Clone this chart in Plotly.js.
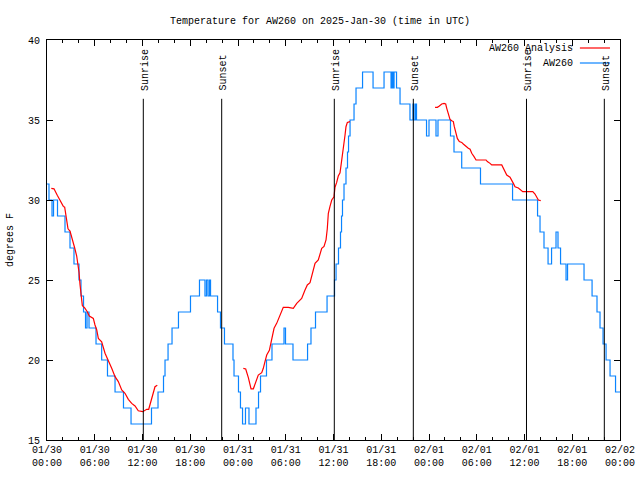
<!DOCTYPE html>
<html>
<head>
<meta charset="utf-8">
<script src="https://cdn.plot.ly/plotly-3.0.1.min.js"></script>
<style>html,body{margin:0;padding:0;background:#fff}#chart{width:640px;height:480px}</style>
</head>
<body>
<div id="chart"></div>
<script>
// Hours after 2025-01-30 00:00 UTC
const obsHours = [0.00,0.25,0.63,0.82,1.32,2.26,2.89,3.39,4.02,4.27,4.59,4.84,5.03,5.28,6.16,6.87,7.60,8.55,9.61,10.56,
  13.13,13.95,14.64,14.83,15.21,15.71,16.52,18.03,19.16,19.85,20.04,20.23,20.42,20.55,21.43,21.80,22.30,23.37,23.50,24.06,
  24.31,24.57,24.94,25.38,26.26,26.58,26.83,27.58,28.27,29.78,29.97,30.91,32.74,33.17,33.74,35.19,36.13,36.32,36.63,36.88,
  37.01,37.13,37.32,37.57,37.76,37.89,38.08,38.58,38.83,39.65,40.97,42.35,43.23,43.36,43.48,43.61,43.92,44.36,45.61,45.99,
  46.12,46.31,46.43,47.69,48.00,48.88,49.13,50.70,51.14,52.11,54.47,58.50,61.64,61.95,62.45,62.96,63.40,63.96,64.21,64.53,
  65.22,65.41,67.48,68.49,69.11,69.49,69.87,70.25,70.75,71.44,72.00];
const obsTemp = [31,30,29,30,29,28,27,26,25,24,23,22,23,22,21,20,19,18,17,16,
  17,18,19,20,21,22,23,24,25,24,25,24,25,24,23,22,21,20,19,18,
  17,16,17,16,17,18,19,20,21,22,21,20,21,22,23,24,25,26,27,28,
  29,30,31,32,33,34,35,36,37,38,37,38,37,38,37,38,37,36,35,36,
  35,36,35,34,35,34,35,34,33,32,31,30,29,28,27,26,27,28,27,26,
  25,26,25,24,23,22,21,20,19,18,18];

// Analysis series (null = gap)
const anaHours = [0.54,0.88,1.29,1.72,2.05,2.22,2.35,2.48,2.64,2.89,3.18,3.48,3.73,3.90,4.02,4.15,4.23,4.44,4.74,5.06,
  5.32,5.82,6.03,6.25,6.45,6.87,7.29,7.70,8.13,8.55,8.96,9.39,9.80,10.22,10.64,11.06,11.47,12.03,12.53,12.78,
  13.16,13.57,13.86, 19.0,
  24.67,24.97,25.30,25.64,25.93,26.26,26.55,26.98,27.18,27.39,27.61,27.94,28.24,28.53,28.86,29.28,29.69,30.32,30.95,31.38,
  31.79,32.00,32.42,32.71,33.05,33.46,33.68,34.09,34.31,34.52,34.81,35.06,35.22,35.35,35.56,35.78,36.06,36.19,36.40,36.60,
  36.82,36.91,37.03,37.16,37.32,37.45,37.57,37.74,38.08, 43.0,
  48.76,49.05,49.30,49.60,49.89,50.10,50.23,50.43,50.64,50.86,51.06,51.18,51.40,51.56,51.81,52.11,52.31,52.65,52.94,53.16,
  53.37,53.66,53.91,55.17,55.33,55.67,55.88,57.14,57.34,57.55,57.77,58.18,58.40,58.60,58.81,59.23,59.78,61.04,61.32,61.54,
  61.74,62.04];
const anaTemp = [30.73,30.7,30.3,29.94,29.6,29.55,29.1,28.6,28.2,28.06,27.6,27.0,26.5,26.0,25.5,24.7,24.2,23.4,23.25,23.02,
  22.75,22.6,22.19,21.875,21.35,21.14,20.42,20.0,19.48,18.96,18.65,18.125,17.92,17.54,17.29,17.125,16.83,16.77,16.92,16.92,
  17.6,18.33,18.42, null,
  19.48,19.44,18.9,18.2,18.2,18.65,19.06,19.21,19.48,19.9,20.31,20.6,21.25,21.98,22.29,22.81,23.29,23.29,23.23,23.54,
  23.79,23.85,24.375,24.69,24.83,25.52,26.04,26.25,26.56,26.98,27.1,27.5,28.2,29.17,29.6,30.0,30.2,30.8,31.1,31.5,
  31.7,32.0,32.5,32.9,33.54,34.06,34.58,34.85,34.9, null,
  35.79,35.79,35.875,36.0,36.04,36.0,35.73,35.42,35.04,34.96,34.9,34.58,34.17,33.85,33.65,33.6,33.5,33.33,33.23,33.17,
  32.92,32.71,32.5,32.5,32.4,32.29,32.19,32.19,31.98,31.77,31.56,31.42,31.25,31.04,30.83,30.75,30.52,30.52,30.375,30.2,
  30.0,29.96];

const sunHours = [12.10, 21.95, 36.10, 46.03, 60.25, 70.03];
const sunLabels = ['Sunrise','Sunset','Sunrise','Sunset','Sunrise','Sunset'];

const seriesNames = ['AW260 Analysis', 'AW260'];
const seriesColors = ['#ff0000', '#0a84ff'];

const T0 = Date.UTC(2025, 0, 30, 0, 0, 0);
function toDate(h) {
  return new Date(T0 + Math.round(h * 3600000)).toISOString().replace('T', ' ').slice(0, 19);
}

const FONT = 'Liberation Mono, DejaVu Sans Mono, monospace';

const traces = [
  {x: obsHours.map(toDate), y: obsTemp, type: 'scatter', mode: 'lines', name: seriesNames[1],
   line: {color: seriesColors[1], width: 1.2, shape: 'hv'}, showlegend: false},
  {x: anaHours.map(toDate), y: anaTemp, type: 'scatter', mode: 'lines', name: seriesNames[0],
   line: {color: seriesColors[0], width: 1.2}, connectgaps: false, showlegend: false}
];

const shapes = [];
const annotations = [];
sunHours.forEach((h, i) => {
  shapes.push({type: 'line', xref: 'x', yref: 'paper', x0: toDate(h), x1: toDate(h), y0: 0, y1: 0.853,
               line: {color: '#000', width: 1}});
  annotations.push({xref: 'x', yref: 'paper', x: toDate(h), y: 0.868, xanchor: 'center', yanchor: 'bottom',
                    xshift: 2, textangle: -90, text: sunLabels[i], showarrow: false,
                    font: {family: FONT, size: 10, color: '#000'}});
});
// legend (gnuplot style: text, then sample)
const legY = [0.98, 0.9425];
seriesNames.forEach((n, i) => {
  annotations.push({xref: 'paper', yref: 'paper', x: 0.9215, y: legY[i], xanchor: 'right', yanchor: 'middle',
                    text: n, showarrow: false, font: {family: FONT, size: 10, color: '#000'}});
  shapes.push({type: 'line', xref: 'paper', yref: 'paper', x0: 0.930, x1: 0.9825, y0: legY[i], y1: legY[i],
               line: {color: seriesColors[i], width: 1.2}});
});

const layout = {
  width: 640, height: 480,
  margin: {l: 47, r: 20, t: 40, b: 40},
  paper_bgcolor: '#fff', plot_bgcolor: '#fff',
  font: {family: FONT, size: 10, color: '#000'},
  title: {text: 'Temperature for AW260 on 2025-Jan-30 (time in UTC)', x: 0.5, xanchor: 'center', y: 0.958, yanchor: 'middle',
          font: {family: FONT, size: 10, color: '#000'}},
  showlegend: false,
  xaxis: {
    type: 'date', range: [toDate(0), toDate(72)],
    tick0: toDate(0), dtick: 6 * 3600000, tickformat: '%m/%d<br>%H:%M',
    ticks: 'inside', ticklen: 6, tickcolor: '#000', tickwidth: 1,
    minor: {dtick: 2 * 3600000, ticks: 'inside', ticklen: 3, tickcolor: '#000'},
    showline: true, linecolor: '#000', linewidth: 1, mirror: 'ticks',
    showgrid: false, zeroline: false, tickfont: {family: FONT, size: 10}
  },
  yaxis: {
    range: [15, 40], dtick: 5, tick0: 15,
    ticks: 'inside', ticklen: 6, tickcolor: '#000', tickwidth: 1,
    showline: true, linecolor: '#000', linewidth: 1, mirror: 'ticks',
    showgrid: false, zeroline: false, tickfont: {family: FONT, size: 10},
    ticklabelstandoff: 4,
    title: {text: 'degrees F', standoff: 12, font: {family: FONT, size: 10}}
  },
  shapes: shapes,
  annotations: annotations
};

Plotly.newPlot('chart', traces, layout, {staticPlot: true, displayModeBar: false});
</script>
</body>
</html>
